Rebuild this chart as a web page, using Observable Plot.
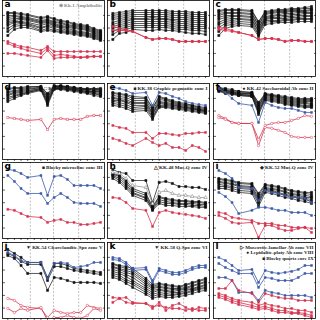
<!DOCTYPE html>
<html><head><meta charset="utf-8">
<script src="https://cdn.jsdelivr.net/npm/d3@7"></script>
<script src="https://cdn.jsdelivr.net/npm/@observablehq/plot@0.6"></script>
<style>
html,body{margin:0;padding:0;background:#fff}
#root{position:relative;width:320px;height:320px;overflow:hidden}
#root svg{position:absolute;overflow:visible}
</style></head><body>
<div id="root"></div>
<script>
// REE elements (Pm position left empty)
const elements = ["La","Ce","Pr","Nd","Sm","Eu","Gd","Tb","Dy","Ho","Er","Tm","Yb","Lu"];
const xIndex = [0,1,2,3,5,6,7,8,9,10,11,12,13,14];
const xTicks = [0,1,2,3,4,5,6,7,8,9,10,11,12,13,14];
const decadeTicks = [0.1,1,10,100,1000];
const gridX = [3.4,6.9,10.7];

// ---- panel a
const aBlack = [
 [1700,1700,1420,1180,690,820,570,400,330,230,190,160,93,65],
 [1420,1420,1180,990,570,690,480,330,280,190,160,134,78,54],
 [990,990,820,690,400,480,330,280,190,160,134,112,65,45],
 [690,820,690,570,330,400,280,230,160,134,112,93,54,38],
 [480,570,570,480,280,330,230,160,134,112,93,78,45,31],
 [330,400,480,400,230,280,190,134,112,93,78,65,38,26],
 [230,330,330,280,160,230,160,112,93,65,54,45,31,22],
 [160,280,280,230,112,160,134,93,65,54,45,38,26,18],
 [93,190,230,190,93,134,93,65,54,45,38,31,22,15],
 [54,134,160,160,65,93,65,54,45,38,31,26,18,12.6],
 [26,78,112,112,54,65,54,45,38,31,26,22,15,10.5]];
const aRed = [
 [8.8,5.1,3.5,3,1.7,3.5,1.4,1.4,1.4,1.4,1.4,1.4,1.4,1.4],
 [6.1,3.5,2.5,1.7,0.99,2.5,0.69,0.83,0.69,0.58,0.48,0.48,0.58,0.58],
 [0.99,0.99,0.83,0.69,0.48,1.7,0.4,0.48,0.48,0.48,0.48,0.58,0.58,0.58]];
// ---- panel b
const bBlack = [
 [1420,1700,2040,2440,2440,2440,2440,2440,2040,2040,2040,1700,1700,1700],
 [990,1180,1420,1700,1700,1700,1700,1700,1420,1420,1420,1180,1180,1180],
 [690,820,990,1180,1180,1180,1180,1180,990,990,990,820,820,820],
 [480,570,690,820,820,820,820,820,690,690,690,570,570,570],
 [280,400,480,570,570,690,570,570,480,480,480,400,400,400],
 [190,280,330,480,480,480,480,480,400,330,330,280,280,280],
 [134,190,230,330,330,330,330,330,280,230,230,190,190,190],
 [93,134,160,230,230,230,230,230,190,160,160,134,134,134],
 [54,93,112,160,160,160,160,160,134,112,112,93,93,93],
 [31,65,78,112,112,112,112,112,93,78,78,65,65,54],
 [12.6,38,45,78,65,65,78,65,65,54,45,38,38,31]];
const bRed = [
 [134,93,78,54,18,12.6,15,15,12.6,8.8,8.8,8.8,8.8,8.8],
 [70,65,62,54,18,12.6,15,15,12.6,8.8,8.8,8.8,8.8,8.8]];
// ---- panel c
const cBlack = [
 [2440,2930,2930,2930,2440,330,2040,2440,2930,2930,3510,3510,4210,5050],
 [2040,2440,2440,2440,2040,280,1700,2040,2440,2440,2930,2930,3510,3510],
 [1420,1700,1700,1700,1420,190,1420,1700,2040,2040,2440,2440,2440,2930],
 [990,1420,1420,1420,1180,160,1180,1420,1700,1700,2040,2040,2040,2440],
 [690,990,990,990,820,112,820,990,1180,1420,1420,1700,1700,1700],
 [480,690,820,820,690,93,690,820,990,990,1180,1180,1420,1420],
 [280,480,570,570,480,65,570,690,690,820,820,990,990,990],
 [190,330,400,480,400,54,480,570,570,570,690,690,820,820],
 [112,230,280,330,280,38,400,400,400,480,480,570,570,570],
 [54,160,190,230,190,31,280,330,330,400,400,480,480,480],
 [26,93,134,160,134,22,190,230,280,280,280,330,330,330]];
const cRed = [
 [112,93,65,45,26,12.6,15,15,12.6,8.8,10.5,10.5,8.8,8.8],
 [78,65,54,45,26,12.6,15,15,12.6,8.8,10.5,10.5,8.8,8.8]];
// ---- panel d
const dBlack = [
 [6050,7260,7260,8700,8700,2440,10430,10430,8700,7260,6050,6050,6050,6050],
 [5050,6050,6050,7260,8700,2040,8700,8700,8700,7260,6050,5050,5050,5050],
 [3510,4210,5050,6050,7260,1420,8700,8700,7260,6050,5050,5050,4210,4210],
 [2930,3510,4210,5050,7260,1180,7260,8700,7260,6050,5050,4210,3510,3510],
 [2040,2930,3510,4210,6050,820,7260,7260,6050,5050,4210,3510,3510,2930],
 [1700,2440,2930,3510,6050,690,6050,7260,6050,5050,4210,3510,2930,2440],
 [1180,1700,2440,2930,5050,480,6050,6050,5050,4210,3510,2930,2440,2040],
 [820,1420,2040,2930,5050,400,6050,6050,5050,4210,3510,2930,2440,1700],
 [570,990,1700,2440,4210,280,5050,5050,4210,3510,2930,2440,1700,1420]];
const dRed = [[31,26,22,18,22,3.5,22,26,22,22,22,38,45,45]];
// ---- panel e
const eBlue = [[7260,6050,4210,2440,2930,280,2930,2440,1420,990,570,400,330,280]];
const eBlack = [
 [2930,2440,2040,1420,1180,190,1420,990,690,480,400,280,230,190],
 [2440,2040,1700,990,990,160,1180,820,570,400,330,280,190,160],
 [1700,1420,1180,690,690,112,820,690,480,330,280,230,160,134],
 [1180,990,820,480,480,78,570,480,400,280,230,190,134,112],
 [990,820,570,400,400,65,480,400,330,230,190,160,134,112],
 [690,690,480,280,280,54,400,330,280,230,190,160,112,93],
 [570,480,330,190,230,38,280,280,230,190,160,134,112,93],
 [400,330,230,134,160,31,230,230,190,160,134,112,93,78],
 [280,230,160,93,112,22,190,190,160,134,112,93,78,65]];
const eRed = [
 [7.3,5.1,4.3,2.05,2.05,0.69,1.7,1.7,1.4,1.2,1.7,1.7,2.05,2.05],
 [0.69,0.48,0.28,0.19,0.69,0.33,0.19,0.28,0.134,0.134,0.078,0.19,0.134,0.065]];
// ---- panel f
const fBlack = [
 [7260,6050,5050,3510,2930,480,2440,2040,1700,1420,1180,990,990,990],
 [7260,5050,4210,3510,2930,400,2040,1700,1420,1180,990,820,820,820],
 [6050,4210,3510,2930,2440,280,2040,1700,1420,990,820,690,690,690],
 [6050,4210,3510,2440,2440,230,1700,1420,1180,820,690,570,570,570],
 [5050,3510,2930,2440,2040,160,1420,1180,990,690,570,480,480,400],
 [5050,3510,2930,2040,1700,134,1180,990,820,570,480,400,400,330],
 [4210,2930,2440,2040,1700,93,990,820,690,480,400,330,280,280],
 [4210,2930,2440,1700,1420,78,820,690,570,400,330,280,230,230],
 [3510,2440,2040,1700,1420,54,690,570,480,330,280,230,190,190]];
const fBlue = [[6050,2930,990,400,280,12.6,480,280,190,160,160,112,78,78]];
const fRed = [
 [45,26,12.6,10.5,10.5,0.58,7.3,10.5,12.6,12.6,18,26,45,38],
 [31,22,12.6,10.5,10.5,0.19,5.1,4.3,3,2.05,0.99,0.83,0.83,0.83]];
// ---- panel g
const gBlue = [
 [4210,3510,2040,990,1420,38,1180,1420,690,230,230,230,230,134],
 [1420,480,134,54,54,8.8,26,54,26,10.5,8.8,8.8,8.8,5.1]];
const gRed = [[3,2.5,1.4,0.83,0.69,0.28,0.4,0.48,0.28,0.28,0.19,0.19,0.23,0.28]];
// ---- panel h
const hBlack = [
 [4210,2440,2040,570,570,10.5,400,480,330,190,190,160,160,112],
 [2040,1420,570,134,54,5.1,31,22,18,15,15,12.6,12.6,10.5],
 [1700,1180,400,93,38,4.3,26,18,15,12.6,12.6,10.5,10.5,8.8],
 [1420,820,280,65,26,3.5,18,12.6,10.5,8.8,8.8,8.8,7.3,7.3],
 [1180,570,192,54,22,3,12.6,8.8,8.8,7.3,7.3,6.1,6.1,5.1],
 [820,400,134,38,15,2.5,8.8,6.1,6.1,5.1,5.1,5.1,4.3,4.3]];
const hGray = [[2440,2040,820,230,160,8.8,65,93,54,38,38,31,26,26]];
const hRed = [[26,22,10.5,3.5,2.5,0.134,1.7,2.5,1.7,1.4,1.2,0.99,0.83,0.58]];
// ---- panel i
const iBlue = [
 [3510,2040,820,160,134,15,93,65,54,38,26,26,22,10.5],
 [65,31,10.5,1.4,2.5,4.3,4.3,3.5,2.5,2.5,1.7,1.7,1.7,0.99]];
const iBlack = [
 [820,690,570,400,330,54,280,230,190,134,93,78,65,65],
 [690,570,480,330,280,38,230,192,160,112,78,65,54,45],
 [480,400,330,230,190,26,160,134,112,78,54,45,38,31],
 [400,330,280,190,160,18,134,112,93,65,45,38,26,26],
 [280,230,190,134,112,12.6,112,93,65,45,38,26,22,18],
 [190,190,134,93,78,8.8,93,78,54,38,31,22,18,12.6],
 [134,134,93,65,54,5.1,65,54,38,26,22,15,12.6,8.8]];
const iRed = [
 [1.7,1.4,0.69,0.58,0.4,0.23,0.23,0.23,0.16,0.16,0.112,0.112,0.112,0.093],
 [0.99,0.58,0.28,0.23,0.28,0.018,0.16,0.16,0.093,0.065,0.065,0.093,0.112,0.045]];
// ---- panel j
const jBlue = [[2440,1420,570,400,400,22,330,400,330,160,190,230,400,400]];
const jBlack = [
 [4210,2040,990,400,400,26,330,330,230,134,112,93,78,65],
 [2040,1180,480,280,280,15,190,190,134,93,78,65,54,45],
 [1420,820,230,54,54,2.5,26,22,15,10.5,10.5,10.5,10.5,8.8]];
const jRed = [
 [0.58,0.4,0.16,0.112,0.093,0.018,0.065,0.045,0.037,0.045,0.045,0.16,0.112,0.093],
 [0.093,0.045,0.093,0.065,0.112,0.0104,0.018,0.018,0.026,0.018,0.015,0.026,0.093,0.065]];
// ---- panel k
const kBlue = [
 [990,820,400,134,160,15,134,93,65,65,93,160,230,230],
 [690,570,280,93,112,10.5,93,65,45,45,65,112,160,160]];
const kBlack = [
 [330,230,190,134,22,7.3,8.8,7.3,6.1,5.1,7.3,10.5,15,22],
 [280,190,134,93,15,5.1,7.3,6.1,5.1,4.3,6.1,8.8,12.6,18],
 [192,134,93,65,10.5,4.3,5.1,4.3,3.5,3.5,4.3,6.1,8.8,12.6],
 [160,112,65,45,7.3,3.5,4.3,3.5,3,3,3.5,5.1,7.3,10.5],
 [112,78,45,26,5.1,2.5,3,2.5,2.05,2.5,3,3.5,5.1,7.3],
 [78,54,31,15,3.5,1.7,2.5,2.05,1.7,1.7,2.5,3,4.3,6.1],
 [54,38,18,10.5,2.5,1.2,1.7,1.4,1.2,1.4,1.7,2.5,3.5,4.3],
 [38,26,12.6,7.3,1.7,0.83,1.2,0.99,0.99,1.2,1.4,2.05,3,3.5],
 [26,18,8.8,4.3,1.2,0.58,0.83,0.69,0.69,0.83,0.99,1.4,2.05,2.5]];
const kRed = [
 [0.69,0.58,0.28,0.23,0.23,0.134,0.16,0.112,0.093,0.093,0.065,0.093,0.065,0.065],
 [0.28,0.58,0.69,0.28,0.23,0.093,0.28,0.065,0.16,0.23,0.112,0.065,0.112,0.093]];
// ---- panel l
const lBlue = [
 [990,570,230,93,112,10.5,93,65,54,65,78,112,230,230],
 [330,160,93,54,54,4.3,26,22,15,15,15,26,54,54],
 [26,26,15,1.7,1.7,0.4,2.5,1.7,1.4,0.99,0.99,0.99,0.99,0.69]];
const lRed = [
 [3.5,3.5,15,2.5,1.4,0.28,1.4,0.99,0.69,0.58,0.58,0.4,0.4,0.4],
 [1.4,0.99,0.58,0.4,0.28,0.16,0.23,0.16,0.134,0.093,0.093,0.065,0.065,0.045],
 [0.99,0.69,0.4,0.28,0.16,0.112,0.134,0.093,0.065,0.065,0.045,0.045,0.037,0.026],
 [0.69,0.48,0.28,0.19,0.112,0.078,0.093,0.065,0.045,0.045,0.037,0.037,0.026,0.018]];

const legends = {
 a: "\u2295 Kk-1 Amphibolite",
 d: "\u25A1 KK-78 Muscovite granite",
 e: "\u25A0 KK-38 Graphic pegmatite zone I",
 f: "\u25CF KK-42 Saccharoidal Ab zone II",
 g: "\u25A0 Blocky microcline zone III",
 h: "\u25B3 KK-48 Mus-Q zone IV",
 i: "\u25C6 KK-52 Mus-Q zone IV",
 j: "\u25BC KK-54 Cleavelandite-Spo zone V",
 k: "\u25BC KK-58 Q-Spo zone VI",
 l: "\u25B7 Muscovite-lamellar Ab zone VII\n\u25CF Lepidolite-platy Ab zone VIII\n\u25A0 Blocky quartz core IX"
};

const RED = "#d7334f", BLUE = "#3c5ba8", BLACK = "#111", GRAY = "#777";
const styles = {
  k:{stroke:BLACK, fill:BLACK, symbol:"square", r:1.2, sw:0.7},
  g:{stroke:GRAY, fill:"white", symbol:"triangle", r:1.3, sw:0.6},
  b:{stroke:BLUE, fill:BLUE, symbol:"square", r:1.1, sw:0.8},
  r:{stroke:RED, fill:RED, symbol:"square", r:1.1, sw:0.8},
  ro:{stroke:RED, fill:"white", symbol:"circle", r:1.2, sw:0.8},
  rs:{stroke:RED, fill:"white", symbol:"square", r:1.2, sw:0.8}
};

const panels = [
 {id:"a", col:0,row:0, sets:[["k",aBlack],["r",aRed]]},
 {id:"b", col:1,row:0, sets:[["k",bBlack],["r",bRed]]},
 {id:"c", col:2,row:0, sets:[["k",cBlack],["r",cRed]]},
 {id:"d", col:0,row:1, sets:[["k",dBlack],["rs",dRed]]},
 {id:"e", col:1,row:1, sets:[["k",eBlack],["b",eBlue],["r",eRed]]},
 {id:"f", col:2,row:1, sets:[["k",fBlack],["b",fBlue],["ro",fRed]]},
 {id:"g", col:0,row:2, sets:[["b",gBlue],["r",gRed]]},
 {id:"h", col:1,row:2, sets:[["k",hBlack],["g",hGray],["r",hRed]]},
 {id:"i", col:2,row:2, sets:[["k",iBlack],["b",iBlue],["r",iRed]]},
 {id:"j", col:0,row:3, sets:[["k",jBlack],["b",jBlue],["ro",jRed]]},
 {id:"k", col:1,row:3, sets:[["k",kBlack],["b",kBlue],["r",kRed]]},
 {id:"l", col:2,row:3, sets:[["b",lBlue],["r",lRed]]}
];
const colLeft = [1,106,212];
const rowTop = [-1,82,161,241];

const root = document.getElementById("root");
for (const p of panels) {
  const marks = [
    Plot.ruleX(gridX, {stroke:"#999", strokeWidth:0.6, strokeDasharray:"2,1.5"})
  ];
  p.sets.forEach(([kind, lines], si) => {
    const st = styles[kind];
    const rows = [];
    lines.forEach((vals, li) => vals.forEach((v, k) => rows.push({x:xIndex[k], y:v, s:kind+si+"_"+li, el:elements[k]})));
    marks.push(Plot.line(rows, {x:"x", y:"y", z:"s", stroke:st.stroke, strokeWidth:st.sw}));
    marks.push(Plot.dot(rows, {x:"x", y:"y", symbol:()=>st.symbol, r:st.r, fill:st.fill, stroke:st.stroke, strokeWidth:0.5}));
  });
  marks.push(Plot.frame({stroke:"#000", strokeWidth:0.8}));
  marks.push(Plot.axisY({anchor:"left", ticks:decadeTicks, tickSize:-3, tickFormat:()=>"", label:null, strokeWidth:0.6}));
  marks.push(Plot.axisY({anchor:"right", ticks:decadeTicks, tickSize:-2, tickFormat:()=>"", label:null, strokeWidth:0.6}));
  marks.push(Plot.axisX({anchor:"bottom", ticks:xTicks, tickSize:2, tickFormat:()=>"", label:null, strokeWidth:0.6}));
  marks.push(Plot.text([p.id], {text:d=>d, frameAnchor:"top-left", dx:2, dy:0, lineAnchor:"top", fontSize:9, fontWeight:"bold", fontFamily:"DejaVu Sans", fill:"#000"}));
  if (legends[p.id]) {
    marks.push(Plot.text([legends[p.id]], {text:d=>d, frameAnchor:"top-right", textAnchor:"end", dx:-2, dy:2, lineAnchor:"top", lineHeight:1.15, fontSize:5, fontWeight:"bold", fontFamily:"Liberation Serif", fill: p.id==="a" ? "#888" : "#222"}));
  }
  const svg = Plot.plot({
    width:104, height:80,
    marginTop:1, marginLeft:1, marginRight:1, marginBottom:3,
    x:{domain:[-0.8,14.6], axis:null},
    y:{type:"log", domain:[0.015,15000], axis:null},
    clip:true,
    style:{background:"transparent", overflow:"visible"},
    marks
  });
  svg.style.left = colLeft[p.col] + "px";
  svg.style.top = rowTop[p.row] + "px";
  root.appendChild(svg);
}
</script>
</body></html>
